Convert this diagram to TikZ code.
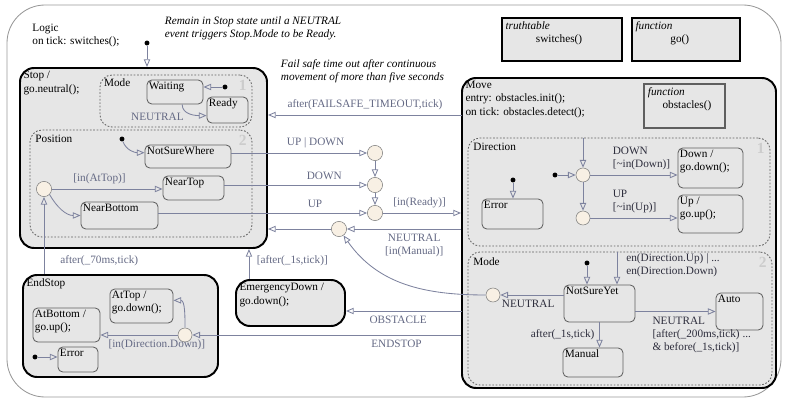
\documentclass[tikz,border=0pt]{standalone}
\usepackage{fontspec}
\setmainfont{Liberation Serif}
\usetikzlibrary{arrows.meta, positioning, fit}

\definecolor{stfill}{RGB}{230,230,230}
\definecolor{trcol}{RGB}{125,130,158}
\definecolor{labcol}{RGB}{100,105,132}
\definecolor{labdark}{RGB}{45,45,60}
\definecolor{juncfill}{RGB}{248,240,228}
\definecolor{edgecol}{RGB}{95,95,95}

\begin{document}
\begin{tikzpicture}[x=0.025cm, y=-0.025cm, >={Triangle[open, length=5.5pt, width=4.5pt]},
    every node/.style={font=\fontsize{8}{9.3}\selectfont},
    chart/.style={draw=gray!80, line width=0.6pt, rounded corners=0.95cm, inner sep=0pt},
    super/.style={draw=black, line width=1.4pt, fill=stfill, rounded corners=0.35cm, inner sep=0pt},
    leaf/.style={draw=edgecol, line width=0.6pt, fill=stfill, rounded corners=0.12cm, inner sep=0pt},
    region/.style={draw=edgecol, dash pattern=on 1.2pt off 1.2pt, line width=0.6pt, rounded corners=0.3cm, inner sep=0pt},
    funbox/.style={draw=black, line width=1.4pt, fill=stfill, inner sep=0pt},
    txt/.style={anchor=north west, align=left, inner sep=1.5pt},
    rnum/.style={anchor=north east, inner sep=4pt, text=gray!40, font=\bfseries\fontsize{11}{12}\selectfont},
    junc/.style={circle, draw=gray, fill=juncfill, minimum size=0.38cm, inner sep=0pt},
    dflt/.style={circle, fill=black, minimum size=3.5pt, inner sep=0pt},
    trans/.style={->, draw=trcol, line width=0.6pt},
    tlab/.style={text=labcol},
    tlabd/.style={text=labdark},
    note/.style={anchor=north west, align=left, font=\itshape\fontsize{8}{9.3}\selectfont}]

  \useasboundingbox (0,0) rectangle (785,400);

  % Chart
  \node[chart, fit={(7,5)(781,397)}] (logic) {};
  \node[txt] (logicTxt) at (30,22) {Logic\\on tick: switches();};
  \node[note] (noteStop) at (160,12) {Remain in Stop state until a NEUTRAL\\event triggers Stop.Mode to be Ready.};
  \node[note] (noteFail) at (276,55) {Fail safe time out after continuous\\movement of more than five seconds};

  % Functions
  \node[funbox, fit={(502,18)(622,61)}, label={[txt, inner sep=3pt]north west:{\textit{truthtable}\\\hspace*{2.7em}switches()}}] (tt) {};
  \node[funbox, fit={(632,18)(740,61)}, label={[txt, inner sep=3pt]north west:{\textit{function}\\\hspace*{3.1em}go()}}] (goFn) {};

  % Stop
  \node[super, fit={(20,68)(267,248)}, label={[txt, inner sep=3pt]north west:{Stop /\\go.neutral();}}] (stop) {};
  \node[region, fit={(100,75)(252,127)}, label={[txt, inner sep=3pt]north west:Mode}, label={[rnum]north east:1}] (modeS) {};
  \node[leaf, fit={(147,80)(203,104)}, label={[txt]north west:Waiting}] (waiting) {};
  \node[leaf, fit={(207,97)(248,123)}, label={[txt]north west:Ready}] (ready) {};
  \node[region, fit={(30,130)(252,237)}, label={[txt, inner sep=4pt]north west:Position}, label={[rnum]north east:2}] (posR) {};
  \node[leaf, fit={(145,145)(231,168)}, label={[txt]north west:NotSureWhere}] (nsw) {};
  \node[leaf, fit={(163,176)(224,200)}, label={[txt]north west:NearTop}] (neartop) {};
  \node[leaf, fit={(81,202)(158,229)}, label={[txt]north west:NearBottom}] (nearbottom) {};
  \node[junc] (jPos) at (44,189) {};

  % Move
  \node[super, fit={(462,78)(776,388)}, label={[txt, inner sep=3pt]north west:{Move\\entry: obstacles.init();\\on tick: obstacles.detect();}}] (move) {};
  \node[funbox, draw=edgecol, line width=0.8pt, fit={(644,84)(725,128)}, label={[txt, inner sep=3pt]north west:{\textit{function}\\\hspace*{1.3em}obstacles()}}] (obst) {};
  \node[region, fit={(468,138)(770,246)}, label={[txt, inner sep=4pt]north west:Direction}, label={[rnum]north east:1}] (dirR) {};
  \node[leaf, fit={(678,148)(743,188)}, label={[txt]north west:{Down /\\go.down();}}] (down) {};
  \node[leaf, fit={(678,195)(743,233)}, label={[txt]north west:{Up /\\go.up();}}] (up) {};
  \node[leaf, fit={(482,199)(543,229)}, label={[txt]north west:Error}] (errD) {};
  \node[junc, minimum size=0.35cm] (jD1) at (583,175) {};
  \node[junc, minimum size=0.35cm] (jD2) at (583,218) {};
  \node[region, fit={(468,252)(772,385)}, label={[txt, inner sep=4pt]north west:Mode}, label={[rnum]north east:2}] (modeR) {};
  \node[leaf, fit={(564,285)(635,322)}, label={[txt]north west:NotSureYet}] (nsy) {};
  \node[leaf, fit={(716,293)(763,330)}, label={[txt]north west:Auto}] (auto) {};
  \node[leaf, fit={(563,348)(623,377)}, label={[txt]north west:Manual}] (manual) {};
  \node[junc, minimum size=0.35cm] (jMode) at (493,295) {};

  % EndStop and EmergencyDown
  \node[super, fit={(23,275)(218,377)}, label={[txt, inner sep=3pt]north west:EndStop}] (endstop) {};
  \node[leaf, fit={(110,289)(173,323)}, label={[txt]north west:{AtTop /\\go.down();}}] (attop) {};
  \node[leaf, fit={(33,308)(100,342)}, label={[txt]north west:{AtBottom /\\go.up();}}] (atbottom) {};
  \node[leaf, fit={(58,347)(98,372)}, label={[txt]north west:Error}] (errE) {};
  \node[junc, minimum size=0.35cm] (jEnd) at (185,335) {};
  \node[super, fit={(236,280)(345,326)}, label={[txt, inner sep=3pt]north west:{EmergencyDown /\\go.down();}}] (emerg) {};

  % Junctions between Stop and Move
  \node[junc] (j1) at (375,153) {};
  \node[junc] (j2) at (375,185) {};
  \node[junc] (j3) at (375,213) {};
  \node[junc] (j4) at (339,229) {};

  % Default transitions
  \node[dflt] (dStop) at (147,43) {};
  \node[dflt] (dWait) at (225,87) {};
  \node[dflt] (dPos) at (122,139) {};
  \node[dflt] (dDir) at (555,175) {};
  \node[dflt] (dErr) at (513,180) {};
  \node[dflt] (dNsy) at (587,263) {};
  \node[dflt] (dErrE) at (35,357) {};
  \draw[trans] (dStop) -- (dStop |- stop.north);
  \draw[trans] (dWait) -- (dWait -| waiting.east);
  \draw[trans] (dPos) to[out=-70, in=180] (nsw.175);
  \draw[trans] (dDir) -- (jD1);
  \draw[trans] (dErr) -- (dErr |- errD.north);
  \draw[trans] (dNsy) -- (dNsy |- nsy.north);
  \draw[trans] (dErrE) -- (dErrE -| errE.west);

  % Stop transitions
  \draw[trans] (waiting.300) to[out=-90, in=180] node[tlab, anchor=north east, pos=0.3, inner sep=1pt] {NEUTRAL} (ready.195);
  \draw[trans] (jPos) -- node[tlab, above, pos=0.43] {[in(AtTop)]} (jPos -| neartop.west);
  \draw[trans] (jPos.-45) to[out=-60, in=180] (nearbottom.west);
  \draw[trans] (nsw.east |- j1) -- node[tlab, above, pos=0.62] {UP | DOWN} (j1);
  \draw[trans] (neartop.east |- j2) -- node[tlab, above, pos=0.7] {DOWN} (j2);
  \draw[trans] (nearbottom.east |- j3) -- node[tlab, above, pos=0.75] {UP} (j3);
  \draw[trans] (j1) -- (j2);
  \draw[trans] (j2) -- (j3);
  \draw[trans] (j3) -- node[tlab, above, pos=0.47] {[in(Ready)]} (j3 -| move.west);
  \draw[trans] (move.west |- j4) -- node[tlab, below, align=center, pos=0.41] {NEUTRAL\\{}[in(Manual)]} (j4);
  \draw[trans] (j4) -- (j4 -| stop.east);
  \draw[trans] (jMode) to[out=180, in=-55] (j4);

  % Move -> Stop / EmergencyDown / EndStop
  \coordinate (mvFail) at (462,115);
  \coordinate (mvObst) at (462,311);
  \draw[trans] (mvFail) -- node[tlab, above, pos=0.5] {after(FAILSAFE\_TIMEOUT,tick)} (mvFail -| stop.east);
  \draw[trans] (mvObst) -- node[tlab, below, pos=0.55] {OBSTACLE} (mvObst -| emerg.east);
  \draw[trans] (move.west |- jEnd) -- node[tlab, below, pos=0.24] {ENDSTOP} (jEnd);
  \draw[trans] (emerg.150) -- node[tlab, pos=0.6, right=2pt] {[after(\_1s,tick)]} (emerg.150 |- stop.south);

  % EndStop transitions
  \draw[trans] (jEnd) -- node[tlab, below, pos=0.27] {[in(Direction.Down)]} (jEnd -| atbottom.east);
  \draw[trans] (jEnd) to[out=90, in=0] (attop.10);
  \draw[trans] (endstop.north -| jPos) -- node[tlab, pos=0.17, right=8pt] {after(\_70ms,tick)} (jPos);

  % Direction
  \draw[trans] (dirR.north -| jD1) -- (jD1);
  \draw[trans] (jD1) -- (jD2);
  \draw[trans] (jD1) -- node[tlabd, anchor=south west, align=left, pos=0.2] {DOWN\\{}[\textasciitilde in(Down)]} (jD1 -| down.west);
  \draw[trans] (jD2) -- node[tlabd, anchor=south west, align=left, pos=0.2] {UP\\{}[\textasciitilde in(Up)]} (jD2 -| up.west);

  % Move.Mode
  \coordinate (enTop) at (617,252);
  \draw[trans] (nsy.west |- jMode) -- node[tlabd, below, pos=0.56] {NEUTRAL} (jMode);
  \draw[trans] (enTop) -- node[tlabd, right=3pt, align=left, pos=0.4] {en(Direction.Up) | ...\\en(Direction.Down)} (enTop |- nsy.north);
  \draw[trans] (nsy.east |- auto.west) -- node[tlabd, anchor=north west, align=left, pos=0.15] {NEUTRAL\\{}[after(\_200ms,tick) ...\\\& before(\_1s,tick)]} (auto.west);
  \draw[trans] (nsy.south) -- node[tlabd, left, pos=0.5] {after(\_1s,tick)} (nsy.south |- manual.north);

\end{tikzpicture}
\end{document}
